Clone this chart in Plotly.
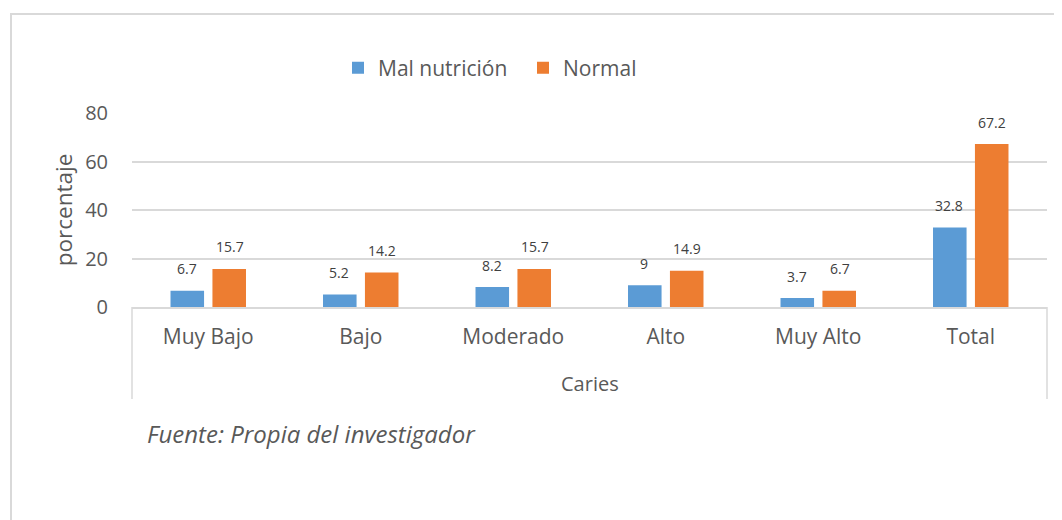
import plotly.graph_objects as go

categories = ["Muy Bajo", "Bajo", "Moderado", "Alto", "Muy Alto", "Total"]
mal_nutricion = [6.7, 5.2, 8.2, 9, 3.7, 32.8]
normal = [15.7, 14.2, 15.7, 14.9, 6.7, 67.2]
y_ticks = [0, 20, 40, 60, 80]

BLUE = "#5B9BD5"
ORANGE = "#ED7D31"
TXT = "#595959"
GRID = "#D9D9D9"
FONT = "Open Sans"

fig = go.Figure()
fig.add_trace(go.Bar(name="Mal nutrición", x=categories, y=mal_nutricion,
                     marker=dict(color=BLUE, line=dict(width=0)), offsetgroup="a"))
fig.add_trace(go.Bar(name="Normal", x=categories, y=normal,
                     marker=dict(color=ORANGE, line=dict(width=0)), offsetgroup="b"))

OFF = 8  # page body margin
W, H = 1062, 520
# plot area in page coords: x 132..1047, y 113..307
L = 132 - OFF
T = 113 - OFF
R = W - (1047 - OFF)
B = H - (307 - OFF)

def px_x(p):
    return (p - OFF - L) / (W - L - R)

def px_y(p):
    return (H - B - (p - OFF)) / (H - T - B)

# data labels
for i, c in enumerate(categories):
    for val, shift in ((mal_nutricion[i], -21.5), (normal[i], 21.5)):
        fig.add_annotation(x=c, y=val, text=f"{val:g}", showarrow=False,
                           xref="x", yref="y", yanchor="middle", yshift=22,
                           xshift=shift, font=dict(size=14, color="#404040", family=FONT))

# outer chart border
fig.add_shape(type="rect", xref="paper", yref="paper",
              x0=px_x(11), x1=px_x(1080), y0=px_y(14), y1=px_y(540),
              line=dict(color=GRID, width=2), fillcolor="rgba(0,0,0,0)", layer="below")
# category box lines below axis
for xp in (132, 1047):
    fig.add_shape(type="line", xref="paper", yref="paper",
                  x0=px_x(xp), x1=px_x(xp), y0=px_y(307), y1=px_y(399),
                  line=dict(color=GRID, width=1.5))

fig.add_annotation(text="Caries", xref="paper", yref="paper", x=0.5, y=px_y(383),
                   showarrow=False, font=dict(size=20, color=TXT, family=FONT),
                   xanchor="center", yanchor="middle")
fig.add_annotation(text="<i>Fuente: Propia del investigador</i>", xref="paper", yref="paper",
                   x=px_x(145), y=px_y(433), showarrow=False,
                   font=dict(size=24, color=TXT, family=FONT),
                   xanchor="left", yanchor="middle")

fig.update_layout(
    width=W, height=H,
    margin=dict(l=L, r=R, t=T, b=B),
    paper_bgcolor="white", plot_bgcolor="white",
    barmode="group", bargap=0.45, bargroupgap=0.2,
    font=dict(family=FONT, color=TXT),
    showlegend=True,
    legend=dict(orientation="h", x=px_x(338), y=px_y(68), xanchor="left", yanchor="middle",
                font=dict(size=21, color=TXT, family=FONT), itemwidth=30,
                entrywidth=140, entrywidthmode="pixels",
                traceorder="normal", bgcolor="rgba(0,0,0,0)"),
    xaxis=dict(showline=True, linecolor=GRID, linewidth=2, ticks="",
               ticklabelstandoff=10,
               tickfont=dict(size=21, color=TXT, family=FONT), showgrid=False),
    yaxis=dict(range=[0, 80], tickvals=y_ticks, showgrid=True, gridcolor=GRID, gridwidth=2,
               zeroline=False, showline=False, ticks="", ticklabelstandoff=23,
               tickfont=dict(size=20, color=TXT, family=FONT),
               title=dict(text="porcentaje", font=dict(size=22.5, color=TXT, family=FONT), standoff=6)),
)

fig.write_html("out.html")
